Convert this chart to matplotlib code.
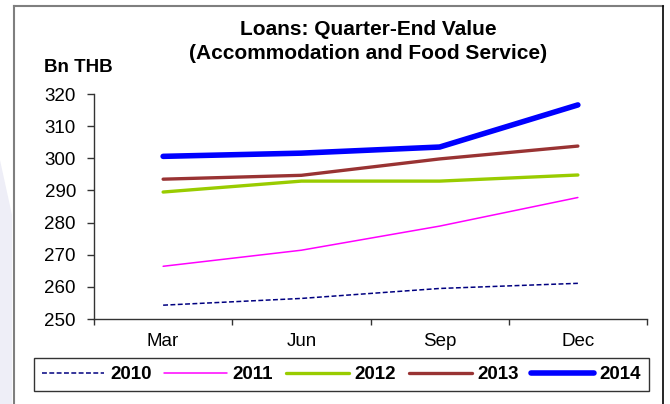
import matplotlib
matplotlib.use("Agg")
import matplotlib.pyplot as plt
from matplotlib.lines import Line2D
from matplotlib.patches import Polygon

plt.rcParams['font.family'] = ['Liberation Sans', 'DejaVu Sans']

quarters = ["Mar", "Jun", "Sep", "Dec"]
years = ["2010", "2011", "2012", "2013", "2014"]
v2010 = [254.3, 256.4, 259.5, 261.1]
v2011 = [266.4, 271.4, 278.9, 287.8]
v2012 = [289.5, 292.9, 292.9, 294.8]
v2013 = [293.5, 294.7, 299.8, 303.8]
v2014 = [300.6, 301.6, 303.5, 316.6]
series = [v2010, v2011, v2012, v2013, v2014]
yticks = [250, 260, 270, 280, 290, 300, 310, 320]

colors = ["#000080", "#FF00FF", "#99CC00", "#993333", "#0000FF"]
widths = [1.1, 1.1, 2.4, 2.4, 4.0]
styles = [(0, (3.2, 1.6)), "-", "-", "-", "-"]

W, H = 670, 404
fig = plt.figure(figsize=(W / 100, H / 100), dpi=100)

# faint watermark strip at left
fig.patches.append(Polygon([(0, 0), (0, 1 - 160 / H), (12 / W, 1 - 215 / H), (12 / W, 0)],
                           closed=True, transform=fig.transFigure,
                           facecolor="#EEEEF7", edgecolor="none", zorder=0))
# outer border
fig.add_artist(Line2D([14 / W, 14 / W], [0, 1 - 6 / H], transform=fig.transFigure, color="#7F7F7F", lw=1.5))
fig.add_artist(Line2D([14 / W, 663 / W], [1 - 6 / H, 1 - 6 / H], transform=fig.transFigure, color="#7F7F7F", lw=1.5))
fig.add_artist(Line2D([663 / W, 663 / W], [0, 1 - 6 / H], transform=fig.transFigure, color="#000000", lw=1.2))

left, right = 94 / W, 647 / W
bottom, top = 1 - 319 / H, 1 - 94 / H
ax = fig.add_axes([left, bottom, right - left, top - bottom])
ax.set_facecolor("none")

x = list(range(len(quarters)))
handles = []
for vals, c, lw, ls, yr in zip(series, colors, widths, styles, years):
    h, = ax.plot(x, vals, color=c, lw=lw, linestyle=ls, label=yr,
                 solid_capstyle="round", solid_joinstyle="round")
    handles.append(h)

ax.set_xlim(-0.5, len(quarters) - 0.5)
ax.set_ylim(yticks[0], yticks[-1])
ax.set_yticks(yticks)
ax.set_yticklabels([str(t) for t in yticks], fontsize=13.5)
ax.set_xticks([i - 0.5 for i in range(len(quarters) + 1)])
ax.set_xticklabels([])
ax.set_xticks(x, minor=True)
ax.set_xticklabels(quarters, minor=True, fontsize=13.5)
ax.tick_params(axis="x", which="major", direction="out", length=4, width=1, color="#333333")
ax.tick_params(axis="x", which="minor", length=0, pad=10)
ax.tick_params(axis="y", direction="out", length=5, width=1, color="#333333", pad=8)
for s in ["top", "right"]:
    ax.spines[s].set_visible(False)
for s in ["left", "bottom"]:
    ax.spines[s].set_color("#333333")
    ax.spines[s].set_linewidth(1)

fig.text(368 / W, 1 - 41.5 / H, "Loans: Quarter-End Value\n(Accommodation and Food Service)",
         ha="center", va="center", fontsize=15, fontweight="bold", linespacing=1.32)
fig.text(44 / W, 1 - 68 / H, "Bn THB", ha="left", va="center", fontsize=13.5, fontweight="bold")

leg = fig.legend(handles=handles, labels=years, loc="center",
                 bbox_to_anchor=(341.5 / W, 1 - 374.5 / H), ncol=5, frameon=True,
                 fancybox=False, handlelength=3.35, handletextpad=0.3, columnspacing=0.68,
                 borderpad=0.4, prop={"weight": "bold", "size": 13.5})
leg.get_frame().set_edgecolor("#000000")
leg.get_frame().set_linewidth(1)

fig.savefig("out.png", dpi=100)
